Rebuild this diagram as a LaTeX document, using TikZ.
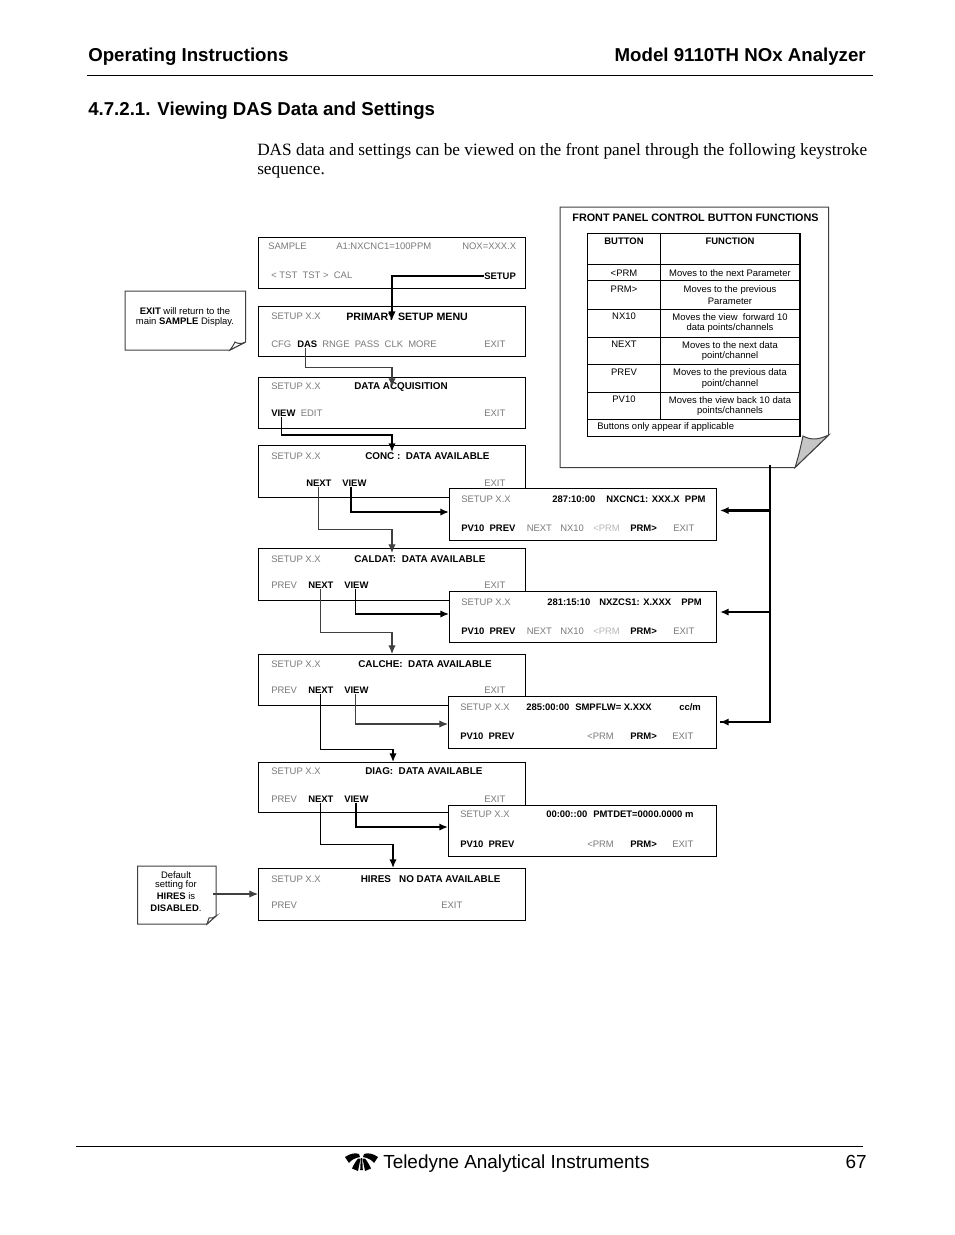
\documentclass[tikz,border=0pt]{standalone}
\usepackage{fontspec}
\setmainfont{Liberation Sans}
\newfontfamily\serifbody{Liberation Serif}
\usetikzlibrary{arrows.meta}
\definecolor{menugray}{gray}{0.48}
\definecolor{palegray}{gray}{0.72}
\definecolor{linegray}{gray}{0.25}
\tikzset{
  box/.style={draw=black,line width=0.75pt,fill=white,inner sep=0pt,outer sep=0pt},
  gt/.style={anchor=west,inner sep=0pt,font=\fontsize{7.1}{8}\selectfont,text=menugray},
  bt/.style={anchor=west,inner sep=0pt,font=\fontsize{7.1}{8}\selectfont\bfseries,text=black},
  tt/.style={anchor=west,inner sep=0pt,font=\fontsize{7.4}{8}\selectfont\bfseries,text=black},
  pt/.style={anchor=west,inner sep=0pt,font=\fontsize{7.1}{8}\selectfont,text=palegray},
  ct/.style={inner sep=0pt,font=\fontsize{7.1}{8}\selectfont,text=black},
  cbt/.style={inner sep=0pt,font=\fontsize{7.1}{8}\selectfont\bfseries,text=black},
  head/.style={anchor=west,inner sep=0pt,font=\fontsize{14}{16}\selectfont\bfseries},
  body/.style={anchor=west,inner sep=0pt,font=\fontsize{12.95}{16}\selectfont\serifbody},
  foot/.style={anchor=west,inner sep=0pt,font=\fontsize{14.2}{16}\selectfont},
  thinarr/.style={draw=linegray,line width=0.8pt,-{Latex[length=6.5pt,width=5.5pt]}},
  midarr/.style={draw=black,line width=1.1pt,-{Latex[length=6.5pt,width=5.5pt]}},
  thickarr/.style={draw=black,line width=1.6pt,-{Latex[length=6.5pt,width=5.5pt]}},
  note/.style={draw=linegray,line width=0.75pt,fill=white},
  fold/.style={draw=linegray,line width=0.75pt,fill=white},
  tline/.style={draw=black,line width=0.75pt},
}
\newcommand{\bx}[5]{\node[box,minimum width={(#4-#2)*0.75pt},minimum height={(#5-#3)*0.75pt}] (#1) at ({(#2+#4)/2},{(#3+#5)/2}) {};}
\begin{document}
\begin{tikzpicture}[x=0.75pt,y=-0.75pt]
\useasboundingbox (0,0) rectangle (954,1235);
\fill[white] (0,0) rectangle (954,1235);

% header
\node[head] (hleft) at (88,57) {Operating Instructions};
\node[head,anchor=east] (hright) at (866,57) {Model 9110TH NOx Analyzer};
\draw[line width=1.3pt] (87,75.5) -- (873,75.5);
\node[head] (sect) at (88,111) {4.7.2.1. Viewing DAS Data and Settings};
\node[body] (para1) at (257,151.5) {DAS data and settings can be viewed on the front panel through the following keystroke};
\node[body] (para2) at (257,172) {sequence.};

% footer
\draw[line width=0.8pt] (76,1146.5) -- (863,1146.5);
\fill (345,1157) .. controls (350,1153.5) and (355,1152.5) .. (359,1154) -- (360,1157) .. controls (355,1158) and (351,1160) .. (349,1163) -- cycle;
\fill (378,1157) .. controls (373,1153.5) and (368,1152.5) .. (364,1154) -- (363,1157) .. controls (368,1158) and (372,1160) .. (374,1163) -- cycle;
\fill (358,1158.5) -- (360.5,1158.5) -- (358,1171) -- (352,1168.5) .. controls (354,1164) and (356,1161) .. cycle;
\fill (365,1158.5) -- (362.5,1158.5) -- (365,1171) -- (371,1168.5) .. controls (369,1164) and (367,1161) .. cycle;
\fill (360.8,1158) -- (362.2,1158) -- (362.8,1170) -- (360.2,1170) -- cycle;
\node[foot] (fleft) at (383,1164) {Teledyne Analytical Instruments};
\node[foot,anchor=east] (fright) at (867,1162) {67};

% big callout
\draw[note] (560,207) -- (828.7,207) -- (828.7,435) -- (795,467.5) -- (560,467.5) -- cycle;
\draw[fold,fill=gray!45] (795,467.5) .. controls (799,455) and (801,445) .. (803,436) .. controls (812,441) and (820,439) .. (828.7,435) -- cycle;
\node[cbt,font=\fontsize{8.1}{9}\selectfont\bfseries] (ttitle) at (695.5,217.5) {FRONT PANEL CONTROL BUTTON FUNCTIONS};
\bx{tbl}{587}{233}{800}{436}
\draw[tline] (660,233) -- (660,419);
\foreach \yy in {264,280,309,337,364,392,419} {\draw[tline] (587,\yy) -- (800,\yy);}
\draw[line width=1.3pt] (800,233) -- (800,436);
\node[cbt] (th1) at (624,241) {BUTTON};
\node[cbt] (th2) at (730,241) {FUNCTION};
\node[ct] (b1) at (624,273) {<PRM};
\node[ct] (f1) at (730,273) {Moves to the next Parameter};
\node[ct] (b2) at (624,289.5) {PRM>};
\node[ct] (f2a) at (730,290) {Moves to the previous};
\node[ct] (f2b) at (730,301) {Parameter};
\node[ct] (b3) at (624,316.5) {NX10};
\node[ct] (f3a) at (730,317) {Moves the view ~forward 10};
\node[ct] (f3b) at (730,328) {data points/channels};
\node[ct] (b4) at (624,344.5) {NEXT};
\node[ct] (f4a) at (730,345) {Moves to the next data};
\node[ct] (f4b) at (730,356) {point/channel};
\node[ct] (b5) at (624,372) {PREV};
\node[ct] (f5a) at (730,373) {Moves to the previous data};
\node[ct] (f5b) at (730,384) {point/channel};
\node[ct] (b6) at (624,399.5) {PV10};
\node[ct] (f6a) at (730,400) {Moves the view back 10 data};
\node[ct] (f6b) at (730,411) {points/channels};
\node[ct,anchor=west] (tfoot) at (597,427) {Buttons only appear if applicable};

% exit note
\draw[note] (125,291) -- (245.6,291) -- (245.6,342) -- (230,350) -- (125,350) -- cycle;
\draw[fold] (230,350) .. controls (232,347) and (234,345) .. (235,342) .. controls (238,344) and (242,344) .. (245.6,342) -- cycle;
\node[ct] (en1) at (185,311) {\textbf{EXIT} will return to the};
\node[ct] (en2) at (185,322) {main \textbf{SAMPLE} Display.};

% default note
\draw[note] (137.5,866) -- (216,866) -- (216,916) -- (207,924) -- (137.5,924) -- cycle;
\draw[fold] (207,924) -- (209,918) .. controls (212,918) and (214,918) .. (216,916) -- cycle;
\node[ct] (dn1) at (176,875) {Default};
\node[ct] (dn2) at (176,885.5) {setting for};
\node[ct] (dn3) at (176,896.5) {\textbf{HIRES} is};
\node[ct] (dn4) at (176,908) {\textbf{DISABLED}.};

% left boxes
\bx{A}{258}{237.5}{525}{288.5}
\bx{B}{258}{306.5}{525}{356}
\bx{C}{258}{377.5}{525}{428.5}
\bx{D}{258}{445.5}{525}{497.5}
\bx{E}{258}{548.5}{525}{600.5}
\bx{F}{258}{654.5}{525}{705.5}
\bx{G}{258}{762.5}{525}{812.5}
\bx{H}{258}{868}{525}{920.5}

% box A
\node[gt] (a1) at (268,246.5) {SAMPLE};
\node[gt] (a2) at (336,246.5) {A1:NXCNC1=100PPM};
\node[gt] (a3) at (462,246.5) {NOX=XXX.X};
\node[gt] (a4) at (271,275.5) {< TST ~TST > ~CAL};
\node[bt] (setup) at (484,276) {SETUP};
% box B
\node[gt] (b1s) at (271,316.5) {SETUP X.X};
\node[bt,font=\fontsize{8}{9}\selectfont\bfseries] (b1t) at (346,316.5) {PRIMARY SETUP MENU};
\node[gt] (bcfg) at (271,344.5) {CFG};
\node[bt] (bdas) at (297,344.5) {DAS};
\node[gt] (brest) at (322,344.5) {RNGE ~PASS ~CLK ~MORE};
\node[gt] (bexit) at (484,344.5) {EXIT};
% box C
\node[gt] (c1s) at (271,386.5) {SETUP X.X};
\node[tt] (c1t) at (354,387.5) {DATA ACQUISITION};
\node[bt] (cview) at (271,413.5) {VIEW};
\node[gt] (cedit) at (300.5,413.5) {EDIT};
\node[gt] (cexit) at (484,413.5) {EXIT};
% box D
\node[gt] (d1s) at (271,456) {SETUP X.X};
\node[tt] (d1t) at (365,456) {CONC : ~DATA AVAILABLE};
\node[bt] (dnext) at (306,483) {NEXT};
\node[bt] (dview) at (342,483) {VIEW};
\node[gt] (dexit) at (484,483) {EXIT};
% box E
\node[gt] (e1s) at (271,559) {SETUP X.X};
\node[tt] (e1t) at (354,559) {CALDAT: ~DATA AVAILABLE};
\node[gt] (eprev) at (271,585) {PREV};
\node[bt] (enext) at (308,585) {NEXT};
\node[bt] (eview) at (344,585) {VIEW};
\node[gt] (eexit) at (484,585) {EXIT};
% box F
\node[gt] (f1s) at (271,664) {SETUP X.X};
\node[tt] (f1t) at (358,664) {CALCHE: ~DATA AVAILABLE};
\node[gt] (fprev) at (271,690) {PREV};
\node[bt] (fnext) at (308,690) {NEXT};
\node[bt] (fview) at (344,690) {VIEW};
\node[gt] (fexit) at (484,690) {EXIT};
% box G
\node[gt] (g1s) at (271,771) {SETUP X.X};
\node[tt] (g1t) at (365,771) {DIAG: ~DATA AVAILABLE};
\node[gt] (gprev) at (271,799) {PREV};
\node[bt] (gnext) at (308,799) {NEXT};
\node[bt] (gview) at (344,799) {VIEW};
\node[gt] (gexit) at (484,799) {EXIT};
% box H
\node[gt] (h1s) at (271,879) {SETUP X.X};
\node[tt] (h1t) at (360.5,879) {HIRES ~ NO DATA AVAILABLE};
\node[gt] (hprev) at (271,905) {PREV};
\node[gt] (hexit) at (441,905) {EXIT};

% right boxes
\bx{Ra}{449}{488.5}{716}{540.5}
\bx{Rb}{449}{591.5}{716}{642.5}
\bx{Rc}{448.5}{696.5}{716}{748.5}
\bx{Rd}{448.5}{805.5}{716}{856.5}

\node[gt] (ra1) at (461,499) {SETUP X.X};
\node[bt] (ra2) at (552,499) {287:10:00};
\node[bt] (ra3) at (606,499) {NXCNC1: XXX.X ~PPM};
\node[bt] (ra4) at (461,528) {PV10 ~PREV};
\node[gt] (ra5) at (526.5,528) {NEXT};
\node[gt] (ra6) at (560,528) {NX10};
\node[pt] (ra7) at (593,528) {<PRM};
\node[bt] (ra8) at (630,528) {PRM>};
\node[gt] (ra9) at (673,528) {EXIT};

\node[gt] (rb1) at (461,602) {SETUP X.X};
\node[bt] (rb2) at (547,602) {281:15:10};
\node[bt] (rb3) at (599,602) {NXZCS1: X.XXX};
\node[bt] (rb3b) at (681,602) {PPM};
\node[bt] (rb4) at (461,631) {PV10 ~PREV};
\node[gt] (rb5) at (526.5,631) {NEXT};
\node[gt] (rb6) at (560,631) {NX10};
\node[pt] (rb7) at (593,631) {<PRM};
\node[bt] (rb8) at (630,631) {PRM>};
\node[gt] (rb9) at (673,631) {EXIT};

\node[gt] (rc1) at (460,707) {SETUP X.X};
\node[bt] (rc2) at (526,707) {285:00:00};
\node[bt] (rc3) at (575,707) {SMPFLW= X.XXX};
\node[bt] (rc3b) at (679,707) {cc/m};
\node[bt] (rc4) at (460,736) {PV10 ~PREV};
\node[gt] (rc7) at (587,736) {<PRM};
\node[bt] (rc8) at (630,736) {PRM>};
\node[gt] (rc9) at (672,736) {EXIT};

\node[gt] (rd1) at (460,814) {SETUP X.X};
\node[bt] (rd2) at (546,814) {00:00::00};
\node[bt] (rd3) at (593,814) {PMTDET=0000.0000 m};
\node[bt] (rd4) at (460,844) {PV10 ~PREV};
\node[gt] (rd7) at (587,844) {<PRM};
\node[bt] (rd8) at (630,844) {PRM>};
\node[gt] (rd9) at (672,844) {EXIT};

% connector targets
\coordinate (tipB) at (392,320);
\coordinate (tipC) at (392,387);
\coordinate (tipD) at (392,452);
\coordinate (tipE) at (392,553);
\coordinate (tipF) at (392,654);
\coordinate (tipG) at (393,762);
\coordinate (tipH) at (393,868);
\coordinate (inRa) at (449,512);
\coordinate (inRb) at (449,614);
\coordinate (inRc) at (448,724);
\coordinate (inRd) at (448,827);
\coordinate (bus) at (770,465);
\coordinate (outRa) at (720,510.5);
\coordinate (outRb) at (720,612);
\coordinate (outRc) at (720,722);
\coordinate (inH) at (258,894);
\coordinate (outN) at (213,894);

% connectors
\draw[midarr] (setup.west) -| (tipB);
\draw[thinarr] ([xshift=-1pt]bdas.south) -- ++(0,19.5) -| (tipC);
\draw[midarr] ([xshift=-1.5pt]cview.south) -- ++(0,18) -| (tipD);
\draw[thinarr] ([xshift=-0.2pt]dnext.south) -- ++(0,43) -| (tipE);
\draw[thickarr] ([xshift=-2.4pt]dview.south) |- (inRa);
\draw[thinarr] ([xshift=-0.2pt]enext.south) -- ++(0,44) -| (tipF);
\draw[midarr] ([xshift=-0.5pt]eview.south) |- (inRb);
\draw[midarr] ([xshift=-0.2pt]fnext.south) -- ++(0,56) -| (tipG);
\draw[thinarr] ([xshift=-0.5pt]fview.south) |- (inRc);
\draw[midarr] ([xshift=-0.2pt]gnext.south) -- ++(0,42) -| (tipH);
\draw[thickarr] ([xshift=-0.5pt]gview.south) |- (inRd);
\draw[thinarr] (outN) -- (inH);
\draw[line width=2pt] (bus) |- (outRc);
\draw[thickarr] (bus |- outRa) -- (outRa);
\draw[thickarr] (bus |- outRb) -- (outRb);
\draw[thickarr] (bus |- outRc) -- (outRc);
\end{tikzpicture}
\end{document}
